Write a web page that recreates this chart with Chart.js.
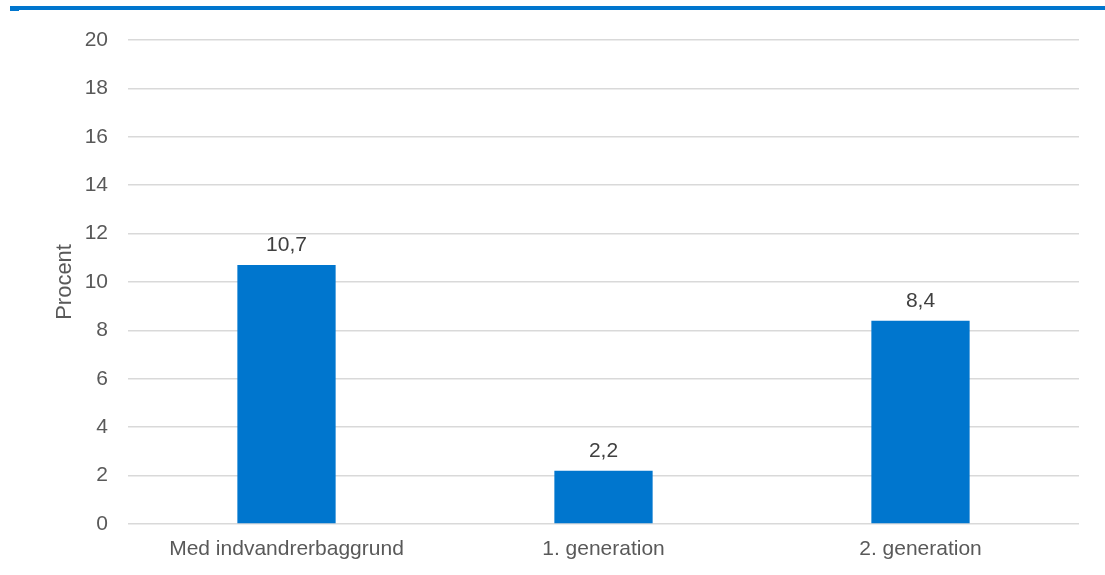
<!DOCTYPE html>
<html>
<head>
<meta charset="utf-8">
<script src="https://cdn.jsdelivr.net/npm/chart.js@4/dist/chart.umd.min.js"></script>
<style>
  html, body { margin: 0; padding: 0; background: #fff; }
  #wrap { position: relative; width: 1105px; height: 575px; }
  #topline { position: absolute; left: 10px; top: 6px; width: 1095px; height: 4px; background: #0076CE; }
  #topmark { position: absolute; left: 10px; top: 10px; width: 9px; height: 1px; background: #0076CE; }
</style>
</head>
<body>
<div id="wrap">
  <canvas id="grafico" width="1105" height="575"></canvas>
  <div id="topline"></div>
  <div id="topmark"></div>
</div>
<script>
// Data
const kategorier = ["Med indvandrerbaggrund", "1. generation", "2. generation"];
const procent = [10.7, 2.2, 8.4];
const yTicks = [0, 2, 4, 6, 8, 10, 12, 14, 16, 18, 20];

// Tal over søjlerne (dansk decimalkomma)
const dataLabels = {
  id: "dataLabels",
  afterDatasetsDraw(chart) {
    const ctx = chart.ctx;
    const meta = chart.getDatasetMeta(0);
    ctx.save();
    ctx.font = "21px 'Liberation Sans', Arial, sans-serif";
    ctx.fillStyle = "#404040";
    ctx.textAlign = "center";
    ctx.textBaseline = "alphabetic";
    meta.data.forEach((bar, i) => {
      const txt = procent[i].toFixed(1).replace(".", ",");
      ctx.fillText(txt, bar.x, bar.y - 14);
    });
    ctx.restore();
  }
};

Chart.defaults.font.family = "'Liberation Sans', Arial, sans-serif";
Chart.defaults.font.size = 21;
Chart.defaults.color = "#595959";

const ctx = document.getElementById("grafico").getContext("2d");
const grafico = new Chart(ctx, {
  type: "bar",
  data: {
    labels: kategorier,
    datasets: [{
      label: "Procent",
      data: procent,
      backgroundColor: "#0076CE",
      barPercentage: 0.31,
      categoryPercentage: 1.0
    }]
  },
  options: {
    responsive: false,
    animation: false,
    layout: { padding: { left: 52, right: 26, top: 40, bottom: 0 } },
    plugins: {
      legend: { display: false },
      tooltip: { enabled: false }
    },
    scales: {
      x: {
        grid: { display: false, drawTicks: false },
        border: { display: false },
        ticks: { padding: 14, color: "#595959", font: { lineHeight: 1.1 } }
      },
      y: {
        min: 0,
        max: 20,
        afterBuildTicks: (axis) => { axis.ticks = yTicks.map(v => ({ value: v })); },
        afterFit: (axis) => { axis.width = 76; },
        grid: { color: "#d9d9d9", lineWidth: 1.5, drawTicks: false },
        border: { display: false },
        ticks: { padding: 20, color: "#595959" },
        title: { display: true, text: "Procent", color: "#595959", font: { size: 22 }, padding: 0 }
      }
    }
  },
  plugins: [dataLabels]
});
</script>
</body>
</html>
